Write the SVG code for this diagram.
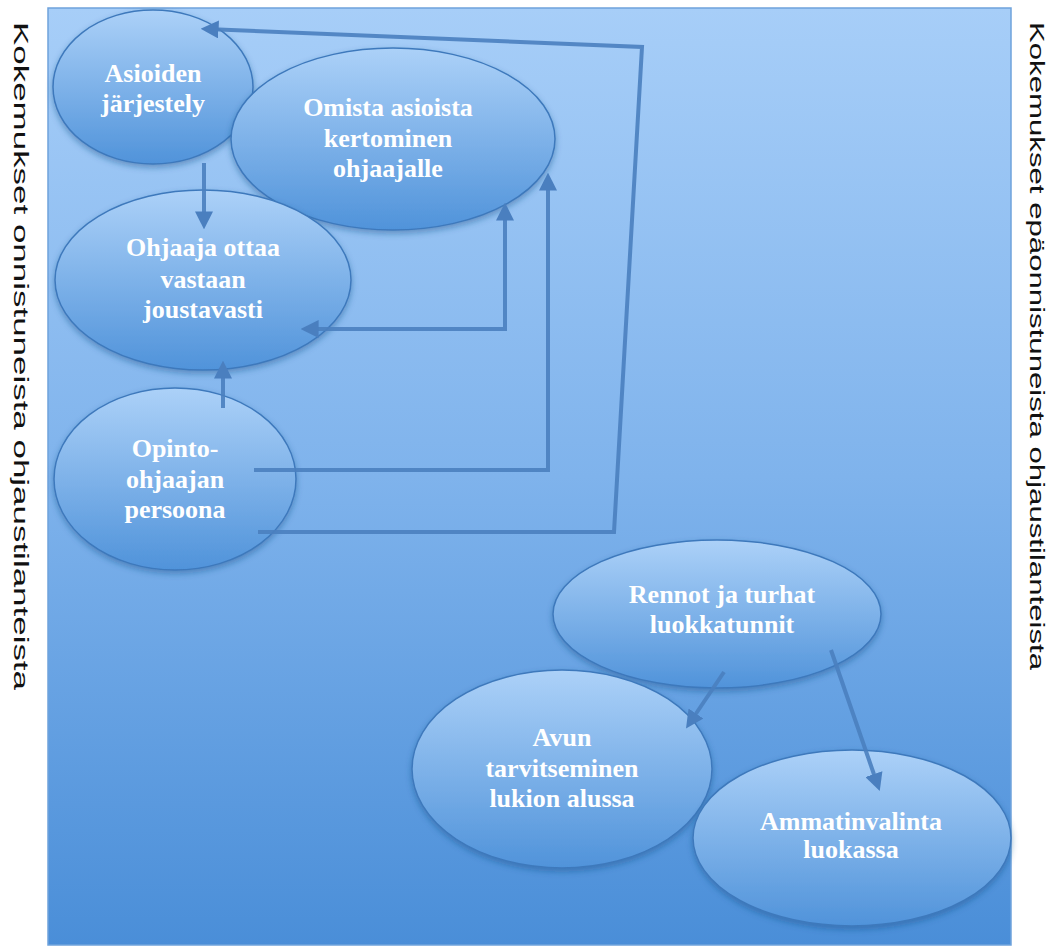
<svg xmlns="http://www.w3.org/2000/svg" width="1053" height="947" viewBox="0 0 1053 947">
<defs>
<linearGradient id="panelG" x1="0" y1="0" x2="0" y2="1">
<stop offset="0" stop-color="#a7cef8"/>
<stop offset="0.5" stop-color="#7fb3ec"/>
<stop offset="1" stop-color="#4a8ed8"/>
</linearGradient>
<linearGradient id="nodeG" x1="0" y1="0" x2="0" y2="1">
<stop offset="0" stop-color="#acd1f8"/>
<stop offset="1" stop-color="#5093da"/>
</linearGradient>
<filter id="sh" x="-10%" y="-10%" width="120%" height="125%">
<feDropShadow dx="0" dy="3" stdDeviation="3" flood-color="#1f4f88" flood-opacity="0.45"/>
</filter>
<marker id="ah" viewBox="0 0 10 10" refX="7" refY="5" markerWidth="4.5" markerHeight="4.5" orient="auto-start-reverse" markerUnits="strokeWidth">
<path d="M0,0 L10,5 L0,10 z" fill="#4a7fbf"/>
</marker>
<style>
.node{fill:url(#nodeG);stroke:#3e79bc;stroke-width:1.5;filter:url(#sh)}
.lbl{font-family:"Liberation Serif",serif;font-weight:bold;font-size:26px;fill:#ffffff;text-anchor:middle}
.side{font-family:"Liberation Sans",Arial,sans-serif;font-size:21px;fill:#111111}
.con{fill:none;stroke:#4a7fbf;stroke-width:4;stroke-opacity:0.9}
</style>
</defs>
<rect x="0" y="0" width="1053" height="947" fill="#ffffff"/>
<rect x="48" y="8" width="963" height="937" fill="url(#panelG)" stroke="#6fa3dc" stroke-width="1.5"/>
<text class="side" transform="translate(14,22) rotate(90)" textLength="668" lengthAdjust="spacingAndGlyphs">Kokemukset onnistuneista ohjaustilanteista</text>
<text class="side" transform="translate(1030,22) rotate(90)" textLength="648" lengthAdjust="spacingAndGlyphs">Kokemukset epäonnistuneista ohjaustilanteista</text>

<g id="n-asioiden">
<ellipse class="node" cx="153" cy="87" rx="100" ry="77"/>
<text class="lbl" x="153" y="82">Asioiden</text>
<text class="lbl" x="153" y="112">järjestely</text>
</g>
<g id="n-omista">
<ellipse class="node" cx="393" cy="139" rx="162" ry="91"/>
<text class="lbl" x="388" y="116">Omista asioista</text>
<text class="lbl" x="388" y="147">kertominen</text>
<text class="lbl" x="388" y="177">ohjaajalle</text>
</g>
<g id="n-ohjaaja">
<ellipse class="node" cx="203" cy="280" rx="148" ry="90"/>
<text class="lbl" x="203" y="256">Ohjaaja ottaa</text>
<text class="lbl" x="203" y="288">vastaan</text>
<text class="lbl" x="203" y="318">joustavasti</text>
</g>
<g id="n-opinto">
<ellipse class="node" cx="175" cy="479" rx="121" ry="91"/>
<text class="lbl" x="175" y="457">Opinto-</text>
<text class="lbl" x="175" y="488">ohjaajan</text>
<text class="lbl" x="175" y="518">persoona</text>
</g>
<g id="n-rennot">
<ellipse class="node" cx="717" cy="614" rx="164" ry="74"/>
<text class="lbl" x="722" y="603">Rennot ja turhat</text>
<text class="lbl" x="722" y="633">luokkatunnit</text>
</g>
<g id="n-avun">
<ellipse class="node" cx="562" cy="769" rx="150" ry="99"/>
<text class="lbl" x="562" y="746">Avun</text>
<text class="lbl" x="562" y="777">tarvitseminen</text>
<text class="lbl" x="562" y="807">lukion alussa</text>
</g>
<g id="n-ammatinvalinta">
<ellipse class="node" cx="852" cy="838" rx="159" ry="88"/>
<text class="lbl" x="851" y="830">Ammatinvalinta</text>
<text class="lbl" x="851" y="858">luokassa</text>
</g>

<g id="connectors">
<path class="con" d="M258,532 L614,532 L642,47 L206,29" marker-end="url(#ah)"/>
<path class="con" d="M254,470 L548,470 L548,178" marker-end="url(#ah)"/>
<path class="con" d="M505,208 L505,329 L306,329" marker-start="url(#ah)" marker-end="url(#ah)"/>
<path class="con" d="M223,408 L223,366" marker-end="url(#ah)"/>
<path class="con" d="M204,163 L204,224" marker-end="url(#ah)"/>
<path class="con" d="M724,672 L689,724" marker-end="url(#ah)"/>
<path class="con" d="M831,650 L878,786" marker-end="url(#ah)"/>
</g>
</svg>
